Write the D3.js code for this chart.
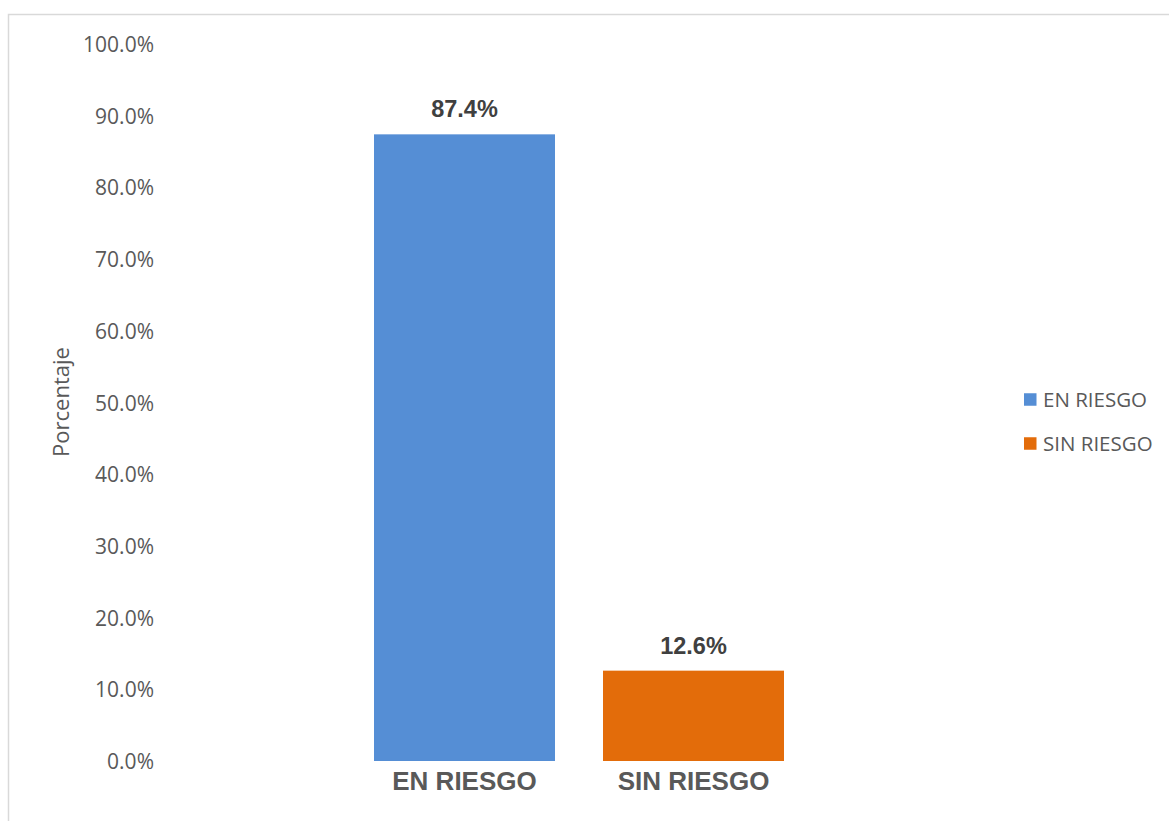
<!DOCTYPE html>
<html>
<head>
<meta charset="utf-8">
<script src="https://cdn.jsdelivr.net/npm/d3@7"></script>
<style>
  html, body { margin: 0; padding: 0; background: #fff; }
  svg { display: block; }
</style>
</head>
<body>
<svg id="chart" width="1169" height="821"></svg>
<script>
// Chart data
const categories = ["EN RIESGO", "SIN RIESGO"];
const values = [87.4, 12.6];
const colors = ["#558ed5", "#e36c0a"];
const tickValues = [0, 10, 20, 30, 40, 50, 60, 70, 80, 90, 100];
const yTitle = "Porcentaje";

const svg = d3.select("#chart");

// Outer chart frame (extends past the right and bottom edges)
svg.append("rect")
  .attr("x", 8.5).attr("y", 14.5)
  .attr("width", 1200).attr("height", 900)
  .attr("fill", "#fff")
  .attr("stroke", "#d9d9d9")
  .attr("stroke-width", 1.5);

const y = d3.scaleLinear().domain([0, 100]).range([761, 44]);
const x = d3.scaleBand()
  .domain(categories)
  .range([350, 808])
  .paddingInner(48 / 229)
  .paddingOuter(24 / 229);

// Y axis labels (no axis line, no gridlines)
const yAxis = d3.axisLeft(y)
  .tickValues(tickValues)
  .tickSize(0)
  .tickPadding(0)
  .tickFormat(d => d.toFixed(1) + "%");

const gy = svg.append("g")
  .attr("transform", "translate(154,0)")
  .call(yAxis);
gy.select(".domain").remove();
gy.selectAll("text")
  .attr("fill", "#595959")
  .attr("font-family", "'Open Sans', 'Liberation Sans', sans-serif")
  .attr("font-size", "21px")
  .attr("dy", "0.36em");

// Y axis title
svg.append("text")
  .attr("transform", "translate(69,402) rotate(-90)")
  .attr("text-anchor", "middle")
  .attr("fill", "#595959")
  .attr("font-family", "'Open Sans', 'Liberation Sans', sans-serif")
  .attr("font-size", "22px")
  .text(yTitle);

// Bars
svg.selectAll("rect.bar")
  .data(categories)
  .enter().append("rect")
  .attr("class", "bar")
  .attr("x", d => x(d))
  .attr("width", x.bandwidth())
  .attr("y", (d, i) => y(values[i]))
  .attr("height", (d, i) => y(0) - y(values[i]))
  .attr("fill", (d, i) => colors[i]);

// Data labels
svg.selectAll("text.val")
  .data(categories)
  .enter().append("text")
  .attr("class", "val")
  .attr("x", d => x(d) + x.bandwidth() / 2)
  .attr("y", (d, i) => y(values[i]) - 17)
  .attr("text-anchor", "middle")
  .attr("fill", "#404040")
  .attr("font-family", "'Liberation Sans', Arial, sans-serif")
  .attr("font-weight", "bold")
  .attr("font-size", "23.5px")
  .text((d, i) => values[i].toFixed(1) + "%");

// Category labels
const xAxis = d3.axisBottom(x).tickSize(0).tickPadding(0);
const gx = svg.append("g")
  .attr("transform", "translate(0,761)")
  .call(xAxis);
gx.select(".domain").remove();
gx.selectAll("text")
  .attr("fill", "#595959")
  .attr("font-family", "'Liberation Sans', Arial, sans-serif")
  .attr("font-weight", "bold")
  .attr("font-size", "26px")
  .attr("dy", "0")
  .attr("y", 29);

// Legend
const legend = svg.append("g");
categories.forEach((c, i) => {
  const ly = 399.5 + i * 44;
  legend.append("rect")
    .attr("x", 1024).attr("y", ly - 6.25)
    .attr("width", 12.5).attr("height", 12.5)
    .attr("fill", colors[i]);
  legend.append("text")
    .attr("x", 1043).attr("y", ly)
    .attr("dy", "0.36em")
    .attr("fill", "#595959")
    .attr("font-family", "'Open Sans', 'Liberation Sans', sans-serif")
    .attr("font-size", "20.5px")
    .text(c);
});
</script>
</body>
</html>
